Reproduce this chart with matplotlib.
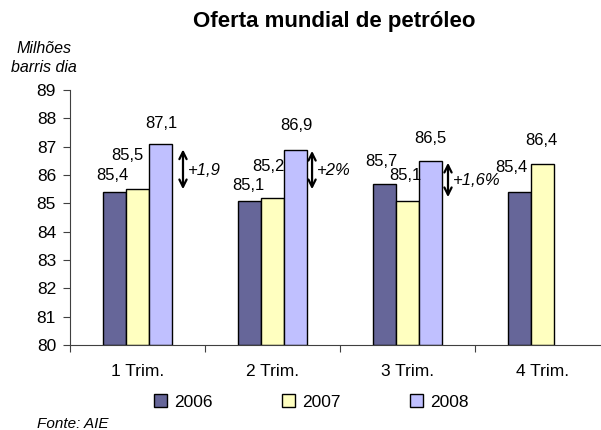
import numpy as np
import matplotlib.pyplot as plt

plt.rcParams['font.family'] = ['Liberation Sans', 'DejaVu Sans']

# data
quarters = ['1 Trim.', '2 Trim.', '3 Trim.', '4 Trim.']
years = ['2006', '2007', '2008']
v2006 = [85.4, 85.1, 85.7, 85.4]
v2007 = [85.5, 85.2, 85.1, 86.4]
v2008 = [87.1, 86.9, 86.5, np.nan]
labels2006 = ['85,4', '85,1', '85,7', '85,4']
labels2007 = ['85,5', '85,2', '85,1', '86,4']
labels2008 = ['87,1', '86,9', '86,5', '']

# label nudges in pixels (dx, dy above the bar top), as Excel placed them
nudge_x = [[-2, -1, -3, -8], [-10, -4, -2, -1], [1, 1, 0, 0]]
nudge_y = [[9, 8, 15, 17], [26, 24, 18, 16], [13, 16, 15, 0]]

# growth annotations (arrow x, bottom, top, text)
growth_x = [0.337, 1.293, 2.30]
growth_lo = [85.4, 85.4, 85.12]
growth_hi = [87.0, 86.95, 86.53]
growth_txt = ['+1,9', '+2%', '+1,6%']

colors = ['#666699', '#FFFFC0', '#C0C0FF']

fig = plt.figure(figsize=(6.01, 4.30), dpi=100)
ax = fig.add_axes([70 / 601, 85 / 430, 540 / 601, 255 / 430])

x = np.arange(len(quarters))
w = 0.17
series = [v2006, v2007, v2008]
texts = [labels2006, labels2007, labels2008]
for i, (vals, lab) in enumerate(zip(series, texts)):
    bars = ax.bar(x + (i - 1) * w, np.array(vals) - 80, width=w, bottom=80,
                  color=colors[i], edgecolor='black', linewidth=1, label=years[i])
    for j, (b, t, v) in enumerate(zip(bars, lab, vals)):
        if t == '':
            continue
        ax.annotate(t, (b.get_x() + b.get_width() / 2, v),
                    xytext=(nudge_x[i][j] * 0.72, nudge_y[i][j] * 0.72),
                    textcoords='offset points', ha='center', va='bottom', fontsize=12)

# arrows with growth text
for gx, lo, hi, t in zip(growth_x, growth_lo, growth_hi, growth_txt):
    ax.annotate('', xy=(gx, hi), xytext=(gx, lo),
                arrowprops=dict(arrowstyle='<->', lw=1.6, color='black', mutation_scale=13))
    ax.text(gx + 0.035, (lo + hi) / 2 - 0.03, t, fontsize=12, style='italic',
            ha='left', va='center')

ax.set_xlim(-0.5, 3.5)
ax.set_ylim(80, 89)
ax.set_yticks(range(80, 90))
ax.set_xticks(np.arange(-0.5, 3.6, 1.0))
ax.set_xticklabels([])
ax.set_xticks(x, minor=True)
ax.set_xticklabels(quarters, minor=True, fontsize=12.5)
ax.tick_params(axis='x', which='minor', length=0, pad=14)
ax.tick_params(axis='x', which='major', length=5, color='#404040')
ax.tick_params(axis='y', length=5, color='#404040', labelsize=12.5, pad=5)
ax.spines['top'].set_visible(False)
ax.spines['right'].set_visible(False)
ax.spines['left'].set_color('#404040')
ax.spines['bottom'].set_color('#404040')

fig.text(334 / 601, 1 - 22 / 430, 'Oferta mundial de petróleo', ha='center', va='center',
         fontsize=16, fontweight='bold')
fig.text(44 / 601, 1 - 58 / 430, 'Milhões\nbarris dia', ha='center', va='center',
         fontsize=11.5, style='italic', linespacing=1.35)
fig.text(37 / 601, 1 - 424 / 430, 'Fonte: AIE', ha='left', va='center',
         fontsize=11, style='italic')

fig.legend(loc='center', bbox_to_anchor=(311 / 601, 1 - 402 / 430), ncol=3, frameon=False,
           fontsize=12.5, handlelength=0.75, handleheight=0.75, handletextpad=0.4,
           columnspacing=4.0)

fig.savefig('out.png', dpi=100)
